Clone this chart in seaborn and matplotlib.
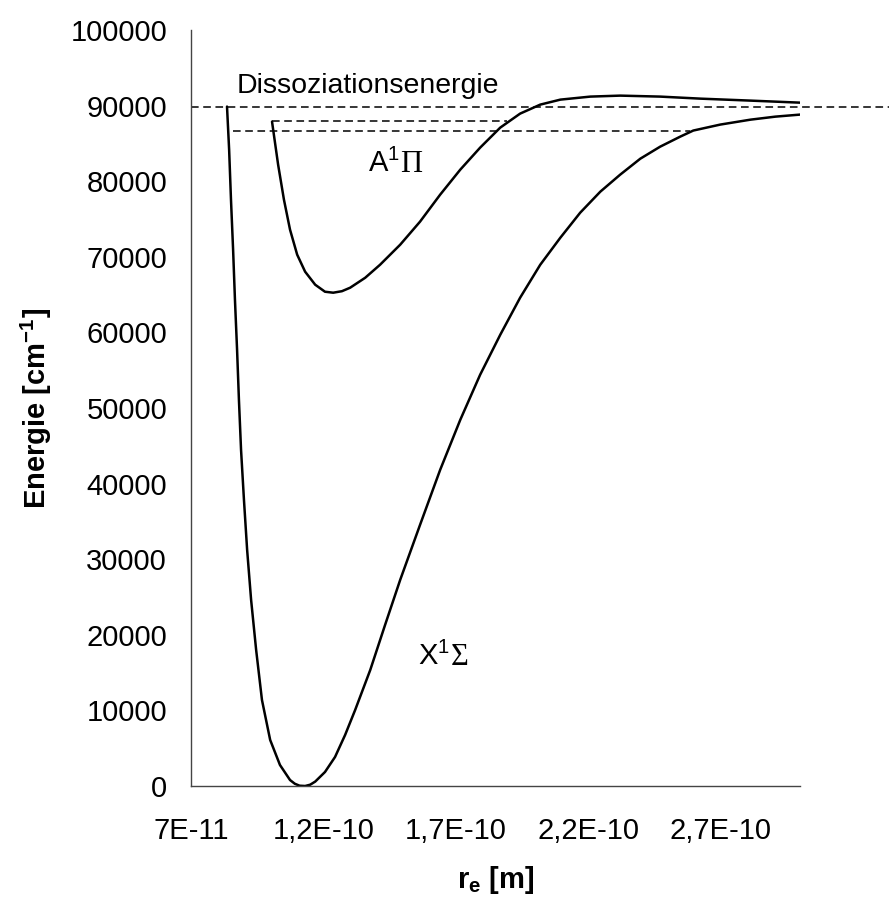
import matplotlib
matplotlib.use("Agg")
import matplotlib.pyplot as plt
import seaborn as sns
import pandas as pd

# ---- data ----
x_ticks = [0.7e-10, 1.2e-10, 1.7e-10, 2.2e-10, 2.7e-10]
x_tick_labels = ["7E-11", "1,2E-10", "1,7E-10", "2,2E-10", "2,7E-10"]
y_ticks = [0, 10000, 20000, 30000, 40000, 50000, 60000, 70000, 80000, 90000, 100000]

# ground state X1Sigma
X_r = [0.836e-10, 0.844e-10, 0.851e-10, 0.859e-10, 0.866e-10, 0.874e-10, 0.881e-10,
       0.889e-10, 0.900e-10, 0.912e-10, 0.927e-10, 0.946e-10, 0.968e-10, 0.999e-10,
       1.036e-10, 1.074e-10, 1.092e-10, 1.110e-10, 1.131e-10, 1.150e-10, 1.169e-10,
       1.206e-10, 1.244e-10,
       1.282e-10, 1.320e-10, 1.377e-10, 1.433e-10, 1.490e-10, 1.565e-10, 1.641e-10,
       1.717e-10, 1.792e-10, 1.868e-10, 1.943e-10, 2.019e-10, 2.095e-10, 2.170e-10,
       2.246e-10, 2.321e-10, 2.397e-10, 2.472e-10, 2.548e-10, 2.597e-10, 2.699e-10,
       2.813e-10, 2.907e-10, 3.000e-10]
X_E = [89870, 84170, 77560, 70940, 64320, 57700, 51090,
       44470, 37850, 31230, 24620, 18000, 11380, 6090,
       2780, 790, 300, 40, 0, 170, 580,
       1850, 3840,
       6750, 10060, 15350, 21310, 27260, 34540, 41820,
       48440, 54400, 59690, 64590, 68950, 72530, 75840,
       78620, 80870, 82980, 84570, 85900, 86700, 87490,
       88140, 88540, 88810]

# excited state A1Pi
A_r = [1.006e-10, 1.029e-10, 1.051e-10, 1.074e-10, 1.101e-10, 1.131e-10, 1.169e-10,
       1.206e-10, 1.237e-10, 1.270e-10, 1.301e-10, 1.358e-10, 1.414e-10, 1.490e-10, 1.565e-10,
       1.641e-10, 1.717e-10, 1.792e-10, 1.868e-10, 1.943e-10, 2.019e-10, 2.095e-10,
       2.208e-10, 2.321e-10, 2.472e-10, 2.624e-10, 2.813e-10, 3.000e-10]
A_E = [87880, 82190, 77560, 73590, 70280, 68030, 66310,
       65380, 65250, 65450, 65910, 67230, 68950, 71600, 74650,
       78220, 81530, 84440, 87090, 88940, 90130, 90790,
       91190, 91320, 91190, 90920, 90660, 90390]

diss_E = 89800
diss_r = [0.7e-10, 3.338e-10]
levelA_E = 87900
levelA_r = [1.006e-10, 1.894e-10]
levelX_E = 86700
levelX_r = [0.859e-10, 2.586e-10]

# ---- figure ----
sns.set_style("white")
plt.rcParams["font.family"] = ["Liberation Sans", "DejaVu Sans"]
plt.rcParams["text.color"] = "black"
plt.rcParams["axes.labelcolor"] = "black"
plt.rcParams["mathtext.fontset"] = "custom"
plt.rcParams["mathtext.rm"] = "Liberation Sans"
plt.rcParams["mathtext.bf"] = "Liberation Sans:bold"
plt.rcParams["mathtext.it"] = "Liberation Sans:italic"

fig = plt.figure(figsize=(8.89, 9.01), dpi=100)
ax = fig.add_axes([191 / 889, 1 - 786 / 901, (800 - 191) / 889, (786 - 30) / 901])

df = pd.concat([
    pd.DataFrame({"r": X_r, "E": X_E, "state": "X"}),
    pd.DataFrame({"r": A_r, "E": A_E, "state": "A"}),
])
sns.lineplot(data=df, x="r", y="E", hue="state", palette=["black", "black"],
             estimator=None, sort=False, legend=False, linewidth=1.8, ax=ax)

dash_kw = dict(color="black", linewidth=1.1, dashes=(5, 3))
ax.plot(diss_r, [diss_E, diss_E], clip_on=False, **dash_kw)
ax.plot(levelA_r, [levelA_E, levelA_E], **dash_kw)
ax.plot(levelX_r, [levelX_E, levelX_E], **dash_kw)

ax.set_xlim(0.7e-10, 3.0e-10)
ax.set_ylim(0, 100000)
ax.set_xticks(x_ticks)
ax.set_xticklabels(x_tick_labels)
ax.set_yticks(y_ticks)
ax.set_yticklabels([str(v) for v in y_ticks])

for s in ["top", "right"]:
    ax.spines[s].set_visible(False)
for s in ["left", "bottom"]:
    ax.spines[s].set_color("#444444")
    ax.spines[s].set_linewidth(1.0)

ax.tick_params(axis="both", direction="out", length=7.2, width=1.0, color="#444444",
               labelsize=21, labelcolor="black")
ax.tick_params(axis="y", pad=10)
ax.tick_params(axis="x", pad=15)

ax.set_xlabel(r"r$_\mathbf{e}$ [m]", fontsize=21, fontweight="bold", labelpad=14, color="black")
ax.set_ylabel(r"Energie [cm$^\mathbf{-1}$]", fontsize=21, fontweight="bold", labelpad=12, color="black")

ax.text(0.874e-10, 91720, "Dissoziationsenergie", fontsize=20.5, ha="left", va="baseline", color="black")

ax.text(1.369e-10, 81260, r"A$^1$", fontsize=21, ha="left", va="baseline", color="black")
ax.text(1.490e-10, 81260, "Π", fontsize=22, ha="left", va="baseline", family="Liberation Serif", color="black")
ax.text(1.558e-10, 16010, r"X$^1$", fontsize=21, ha="left", va="baseline", color="black")
ax.text(1.680e-10, 16010, "Σ", fontsize=22, ha="left", va="baseline", family="Liberation Serif", color="black")

fig.savefig("out.png", dpi=100)
